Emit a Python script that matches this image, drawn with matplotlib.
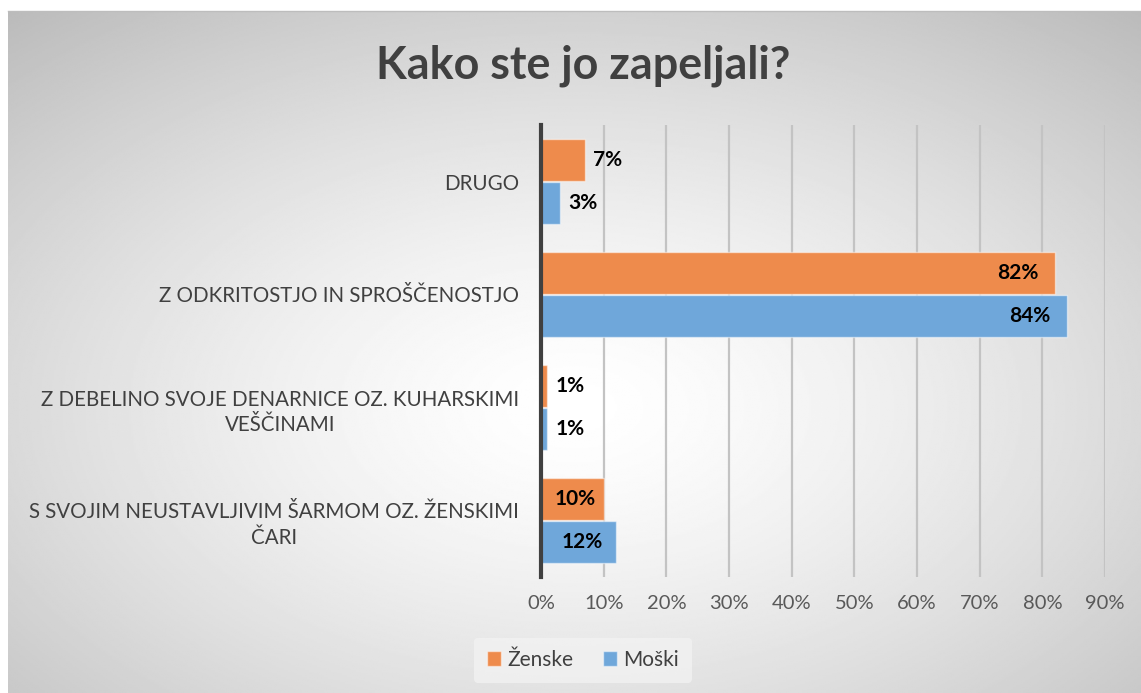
"""
Kako ste jo zapeljali? - horizontal grouped bar chart (Ženske / Moški)
"""

import numpy as np
import matplotlib.pyplot as plt

categories = [
    'DRUGO',
    'Z ODKRITOSTJO IN SPROŠČENOSTJO',
    'Z DEBELINO SVOJE DENARNICE OZ. KUHARSKIMI\nVEŠČINAMI',
    'S SVOJIM NEUSTAVLJIVIM ŠARMOM OZ. ŽENSKIMI\nČARI',
]
zenske = [7, 82, 1, 10]
moski = [3, 84, 1, 12]
x_ticks = [0, 10, 20, 30, 40, 50, 60, 70, 80, 90]

plt.rcParams['font.family'] = ['Lato', 'DejaVu Sans']
text_col = '#404040'
orange = '#EE8B4C'
blue = '#6FA7DA'

fig = plt.figure(figsize=(11.41, 6.93), dpi=100)

# radial grey gradient background (frame starts a few px in from left/top)
bg = fig.add_axes([8 / 1141, 0, 1 - 8 / 1141, 1 - 11 / 693], zorder=-10)
H, W = 400, 650
yy, xx = np.mgrid[0:H, 0:W]
dx = (xx - W * 0.50) / (W * 0.5)
dy = (yy - H * 0.58) / (H * 0.5)
r = np.sqrt(dx ** 2 + dy ** 2) / np.sqrt(2)
shade = 1 - 0.24 * np.clip(r, 0, 1.2) ** 1.4
bg.imshow(shade, cmap='gray', vmin=0, vmax=1, aspect='auto', extent=[0, 1, 0, 1])
bg.set_axis_off()
fig.add_artist(plt.Line2D([8 / 1141, 1], [1 - 11 / 693] * 2, color='#bdbdbd', lw=1))

ax = fig.add_axes([541 / 1141, 1 - 577 / 693, (1105 - 541) / 1141, (577 - 125) / 693])
ax.patch.set_alpha(0)

y = np.arange(len(categories))
h = 0.37
off = 0.19
b1 = ax.barh(y - off, zenske, height=h, color=orange, edgecolor='#ffffff80', linewidth=1, label='Ženske', zorder=3)
b2 = ax.barh(y + off, moski, height=h, color=blue, edgecolor='#ffffff80', linewidth=1, label='Moški', zorder=3)

ax.set_xlim(0, 90)
ax.set_ylim(3.5, -0.5)
ax.set_xticks(x_ticks)
ax.set_xticklabels([f'{t}%' for t in x_ticks], fontsize=14.5, color='#595959')
ax.set_yticks(y)
ax.set_yticklabels(categories, fontsize=14.8, color=text_col, multialignment='center',
                   linespacing=1.35)
ax.tick_params(axis='both', length=0)
ax.tick_params(axis='y', pad=16)
ax.tick_params(axis='x', pad=13)

ax.grid(axis='x', color='#c3c3c3', linewidth=1.6, zorder=0)
for s in ['top', 'right', 'bottom']:
    ax.spines[s].set_visible(False)
ax.spines['left'].set_color('#404040')
ax.spines['left'].set_linewidth(3)
ax.spines['left'].set_zorder(5)

# data labels
for bars, vals in [(b1, zenske), (b2, moski)]:
    for bar, v in zip(bars, vals):
        yc = bar.get_y() + bar.get_height() / 2
        if v > 50:
            ax.annotate(f'{v}%', (v, yc), xytext=(-12, 0), textcoords='offset points',
                        ha='right', va='center', fontsize=15, fontweight='bold', color='black', zorder=6)
        elif v >= 10:
            ax.annotate(f'{v}%', (v / 2 + 0.5, yc), ha='center', va='center',
                        fontsize=15, fontweight='bold', color='black', zorder=6)
        else:
            ax.annotate(f'{v}%', (v, yc), xytext=(6, 0), textcoords='offset points',
                        ha='left', va='center', fontsize=15, fontweight='bold', color='black', zorder=6)

fig.text(583 / 1141, 1 - 66 / 693, 'Kako ste jo zapeljali?', ha='center', va='center',
         fontsize=32.3, fontweight='bold', color=text_col)

leg = fig.legend(handles=[b1, b2], loc='center', bbox_to_anchor=(583 / 1141, 1 - 660 / 693),
                 ncol=2, frameon=True, fontsize=15, handlelength=0.7, handleheight=0.7,
                 handletextpad=0.3, columnspacing=1.4, borderpad=0.6)
leg.get_frame().set_facecolor('#f2f2f2')
leg.get_frame().set_edgecolor('none')
leg.get_frame().set_alpha(0.8)
for t in leg.get_texts():
    t.set_color(text_col)

plt.savefig('out.png', dpi=100)
plt.close()
